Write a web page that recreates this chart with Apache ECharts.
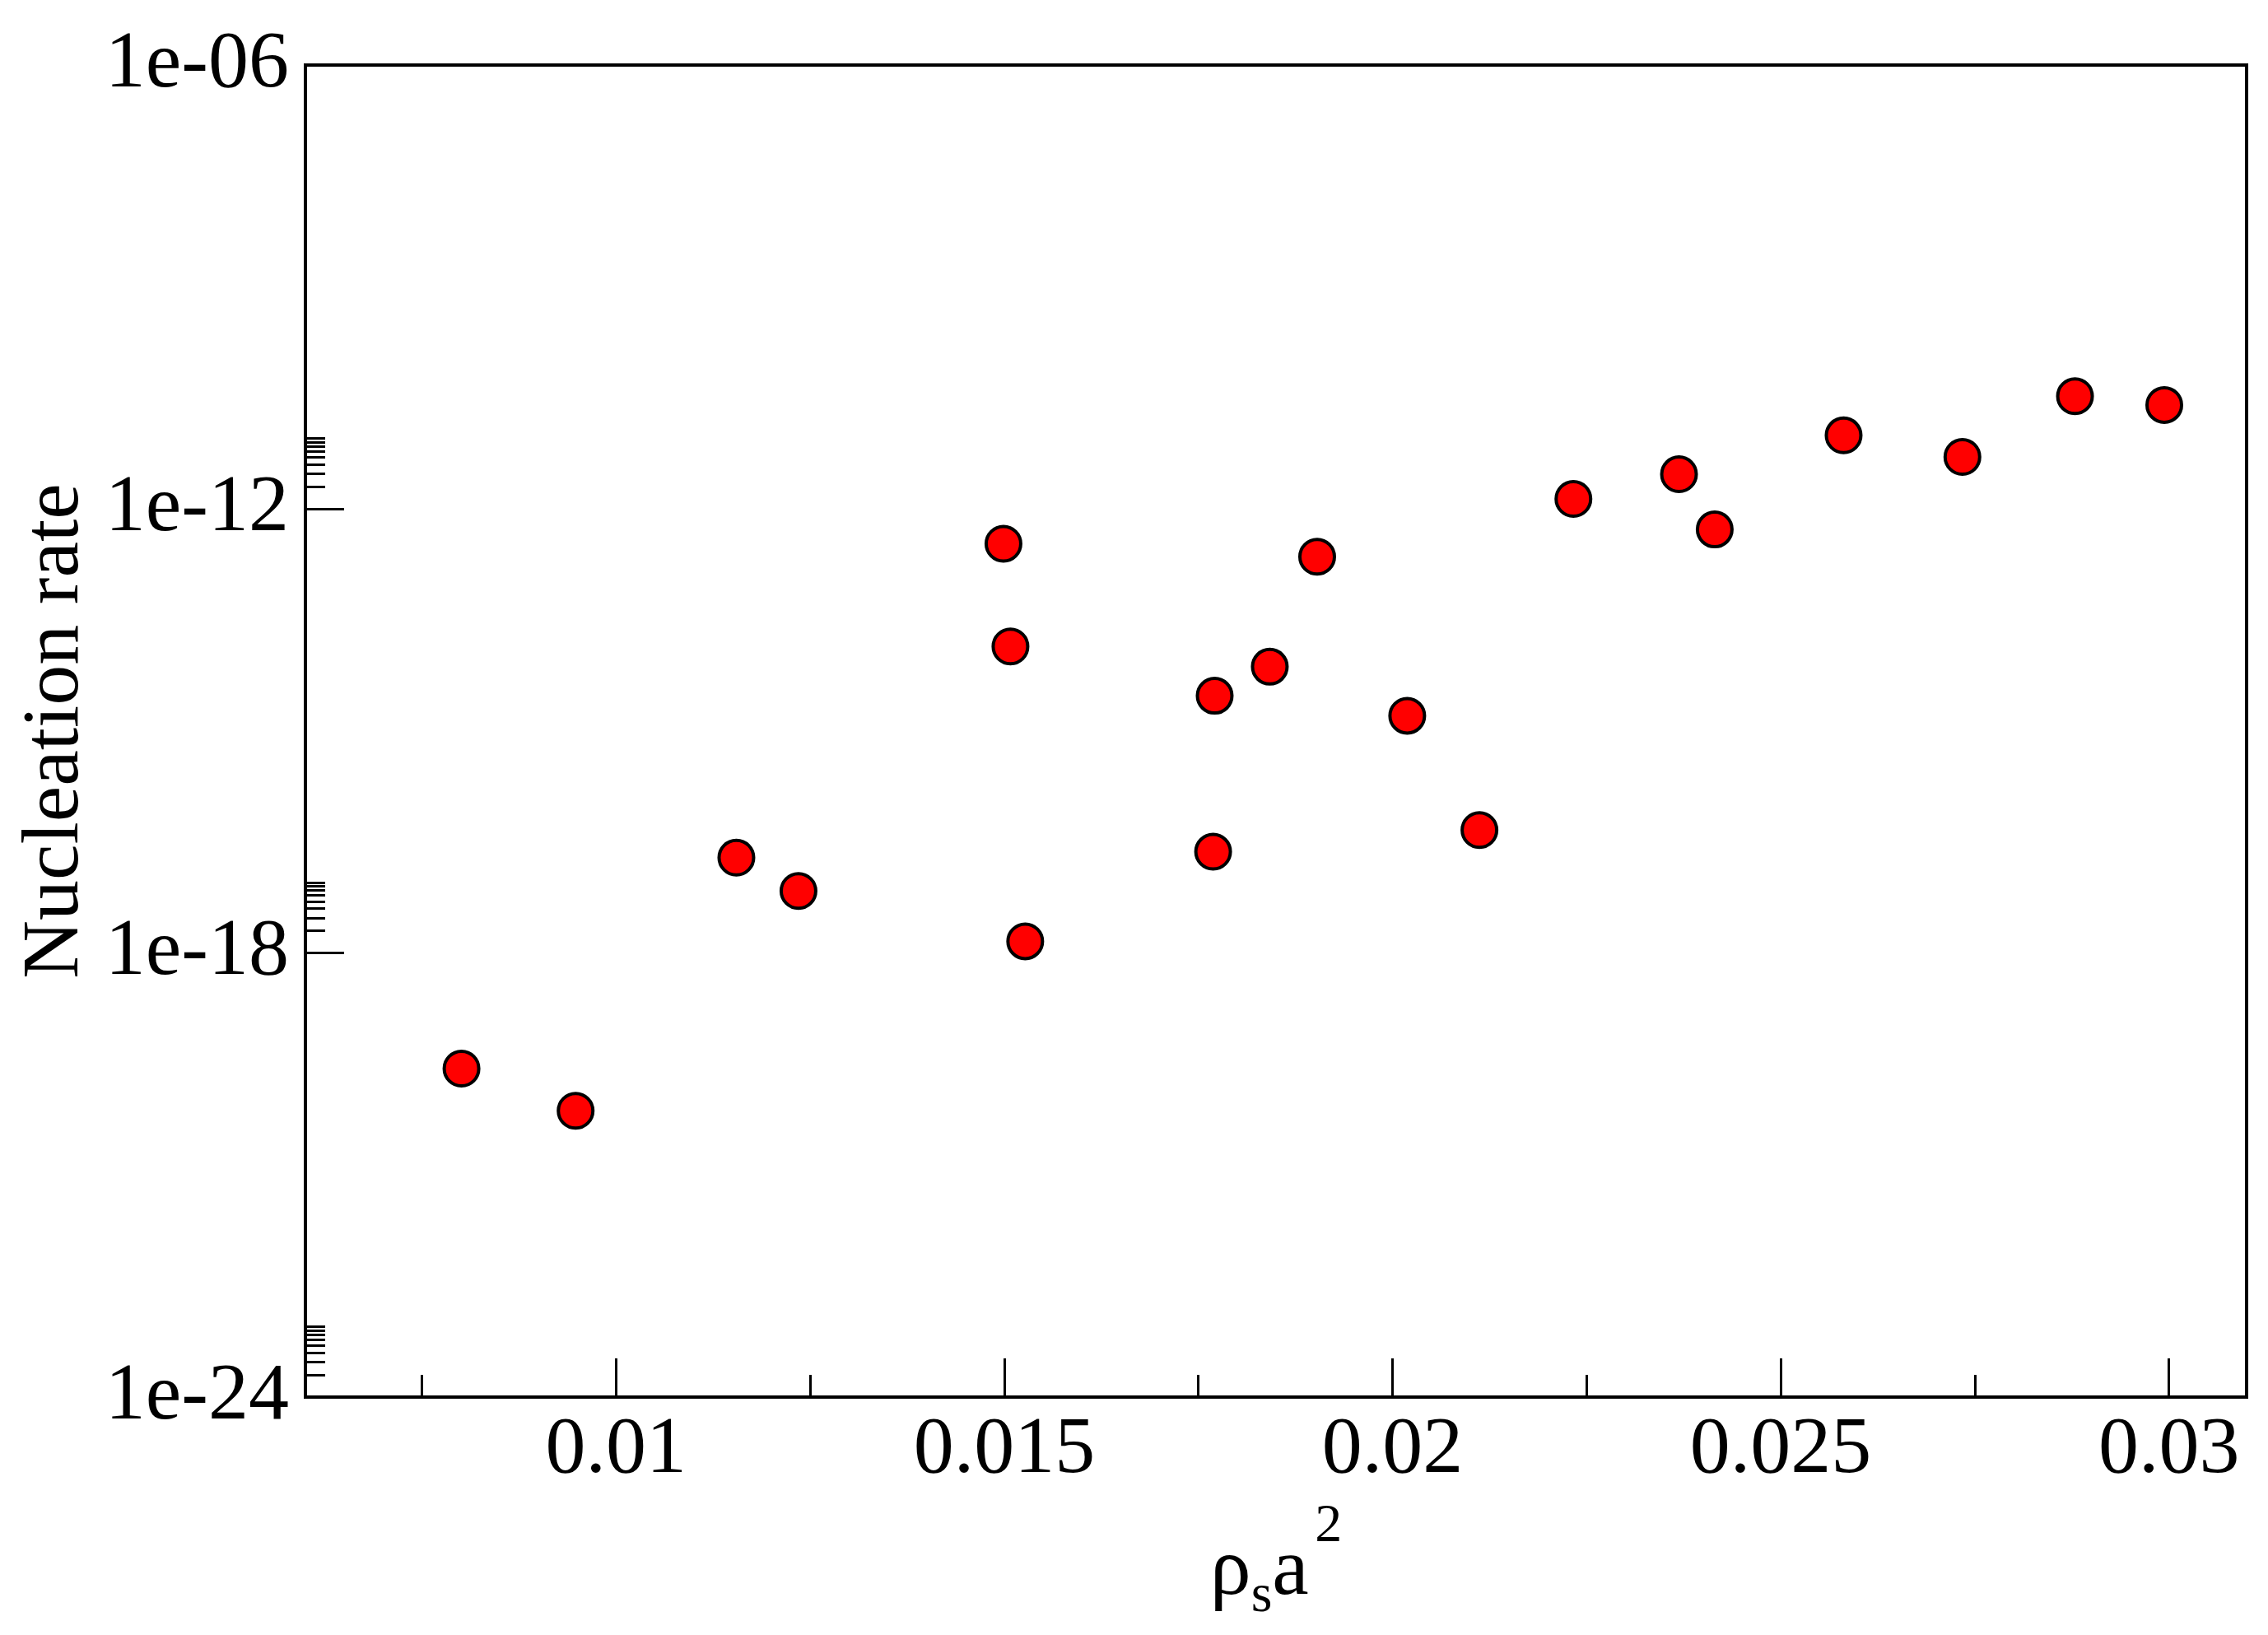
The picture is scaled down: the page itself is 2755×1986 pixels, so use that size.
<!DOCTYPE html>
<html>
<head>
<meta charset="utf-8">
<script src="https://cdn.jsdelivr.net/npm/echarts@6/dist/echarts.min.js"></script>
<style>
  html, body { margin: 0; padding: 0; background: #ffffff; }
  #chart { width: 2755px; height: 1986px; }
</style>
</head>
<body>
<div id="chart"></div>
<script>
// rho_s a^2 values
const density = [
  0.00801, 0.00948, 0.01155, 0.01235, 0.01499, 0.01508, 0.01527,
  0.01771, 0.01769, 0.01842, 0.01903, 0.02019, 0.02112, 0.02233,
  0.02369, 0.02415, 0.02581, 0.02734, 0.02879, 0.02994
];
// nucleation rate
const rate = [
  2.75e-20, 7.4e-21, 1.95e-17, 6.9e-18, 3.4e-13, 1.39e-14, 1.44e-18,
  3.0e-15, 2.34e-17, 7.4e-15, 2.27e-13, 1.61e-15, 4.6e-17, 1.37e-12,
  2.95e-12, 5.3e-13, 9.9e-12, 5.06e-12, 3.35e-11, 2.55e-11
];
const xTicks = [0.01, 0.015, 0.02, 0.025, 0.03];
const xMinorTicks = [0.0075, 0.0125, 0.0175, 0.0225, 0.0275];
const yTicks = [1e-24, 1e-18, 1e-12, 1e-6];
const yMinorTicks = [];
[1e-24, 1e-18, 1e-12].forEach(function (base) {
  for (let k = 2; k <= 9; k++) yMinorTicks.push(k * base);
});

const points = density.map(function (x, i) { return [x, rate[i]]; });

const font = "Liberation Serif";
const chart = echarts.init(document.getElementById("chart"));

chart.setOption({
  backgroundColor: "#ffffff",
  animation: false,
  grid: {
    left: 371,
    top: 79,
    width: 2358,
    height: 1618,
    outerBoundsMode: "none",
    containLabel: false,
    show: true,
    borderColor: "#000000",
    borderWidth: 4,
    backgroundColor: "transparent"
  },
  xAxis: [
    {
      type: "value",
      min: 0.006,
      max: 0.031,
      position: "bottom",
      name: "{r|ρ}{sub|s}{a|a}{sp| }{sup|2}",
      nameLocation: "middle",
      nameGap: 125,
      nameTextStyle: {
        fontFamily: font,
        rich: {
          r: { fontFamily: font, fontSize: 100, color: "#000" },
          sub: { fontFamily: font, fontSize: 66, color: "#000", padding: [60, 0, 0, 0] },
          a: { fontFamily: font, fontSize: 100, color: "#000" },
          sp: { fontFamily: font, fontSize: 30, color: "#000" },
          sup: { fontFamily: font, fontSize: 66, color: "#000", padding: [0, 0, 110, 0] }
        }
      },
      axisLine: { show: true, lineStyle: { color: "#000", width: 4 } },
      axisTick: {
        show: true,
        inside: true,
        length: 47,
        customValues: xTicks,
        lineStyle: { color: "#000", width: 3 }
      },
      axisLabel: {
        show: true,
        customValues: xTicks,
        margin: 16,
        fontFamily: font,
        fontSize: 98,
        color: "#000",
        formatter: function (v) { return String(+v.toFixed(4)); }
      },
      splitLine: { show: false }
    },
    {
      type: "value",
      min: 0.006,
      max: 0.031,
      position: "bottom",
      axisLine: { show: false },
      axisTick: {
        show: true,
        inside: true,
        length: 27,
        customValues: xMinorTicks,
        lineStyle: { color: "#000", width: 3 }
      },
      axisLabel: { show: false },
      splitLine: { show: false }
    }
  ],
  yAxis: [
    {
      type: "log",
      logBase: 10,
      min: 1e-24,
      max: 1e-6,
      position: "left",
      name: "Nucleation rate",
      nameLocation: "middle",
      nameRotate: 90,
      nameGap: 245,
      nameTextStyle: { fontFamily: font, fontSize: 98, color: "#000" },
      axisLine: { show: true, lineStyle: { color: "#000", width: 4 } },
      axisTick: {
        show: true,
        inside: true,
        length: 47,
        customValues: yTicks,
        lineStyle: { color: "#000", width: 3 }
      },
      axisLabel: {
        show: true,
        customValues: yTicks,
        margin: 20,
        fontFamily: font,
        fontSize: 98,
        color: "#000",
        formatter: function (v) {
          const e = Math.round(Math.log10(v));
          const a = Math.abs(e);
          return "1e" + (e < 0 ? "-" : "+") + (a < 10 ? "0" + a : a);
        }
      },
      splitLine: { show: false }
    },
    {
      type: "log",
      logBase: 10,
      min: 1e-24,
      max: 1e-6,
      position: "left",
      axisLine: { show: false },
      axisTick: {
        show: true,
        inside: true,
        length: 24,
        customValues: yMinorTicks,
        lineStyle: { color: "#000", width: 3 }
      },
      axisLabel: { show: false },
      splitLine: { show: false }
    }
  ],
  series: [
    {
      type: "scatter",
      xAxisIndex: 0,
      yAxisIndex: 0,
      data: points,
      symbol: "circle",
      symbolSize: 42,
      itemStyle: { color: "#ff0000", borderColor: "#000000", borderWidth: 4, opacity: 1 }
    }
  ]
});
</script>
</body>
</html>
